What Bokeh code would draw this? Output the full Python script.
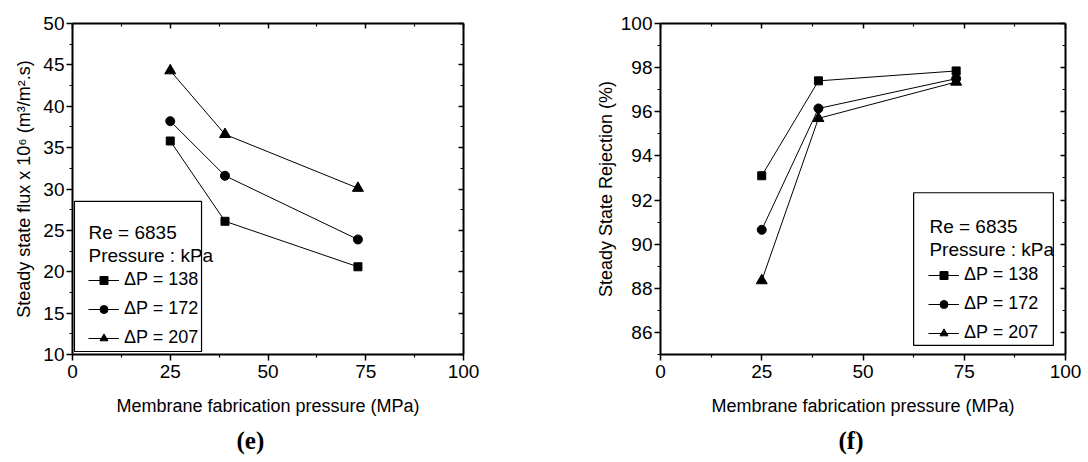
from bokeh.plotting import figure
from bokeh.layouts import row
from bokeh.models import (LinearAxis, FixedTicker, Legend, LegendItem, Label,
                          BoxAnnotation, Range1d, CustomJSTickFormatter, Title)
from bokeh.embed import file_html
from bokeh.resources import INLINE

# ---- data ----
fab_pressure = [25, 39, 73]
series_names = ["\u0394P = 138", "\u0394P = 172", "\u0394P = 207"]
markers = ["square", "circle", "triangle"]

flux_138 = [35.8, 26.1, 20.6]
flux_172 = [38.2, 31.6, 23.9]
flux_207 = [44.3, 36.6, 30.1]

rej_138 = [93.1, 97.4, 97.85]
rej_172 = [90.65, 96.15, 97.5]
rej_207 = [88.35, 95.7, 97.35]

x_ticks = [0, 25, 50, 75, 100]
x_minor = [12.5, 37.5, 62.5, 87.5]
flux_ticks = [10, 15, 20, 25, 30, 35, 40, 45, 50]
flux_minor = [12.5, 17.5, 22.5, 27.5, 32.5, 37.5, 42.5, 47.5]
rej_ticks = [86, 88, 90, 92, 94, 96, 98, 100]
rej_minor = [85, 87, 89, 91, 93, 95, 97, 99]

header_lines = ["Re = 6835", "Pressure : kPa"]

FONT = "Liberation Sans"
SERIF = "Liberation Serif"


def style_axis(ax, ticks, minor, show_labels=True, inside=False):
    ax.ticker = FixedTicker(ticks=ticks, minor_ticks=minor)
    ax.axis_line_color = "black"
    ax.axis_line_width = 2
    ax.major_tick_line_color = "black"
    ax.minor_tick_line_color = "black"
    ax.major_tick_line_width = 1.5
    ax.minor_tick_line_width = 1.2
    if inside:
        ax.major_tick_in = 5
        ax.major_tick_out = 0
        ax.minor_tick_in = 3
        ax.minor_tick_out = 0
    else:
        ax.major_tick_in = 0
        ax.major_tick_out = 6
        ax.minor_tick_in = 0
        ax.minor_tick_out = 3
    ax.major_label_text_font = FONT
    ax.major_label_text_font_size = "19px"
    ax.major_label_text_color = "black"
    ax.axis_label_text_font = FONT
    ax.axis_label_text_font_size = "18px"
    ax.axis_label_text_font_style = "normal"
    ax.axis_label_text_color = "black"
    if not show_labels:
        ax.formatter = CustomJSTickFormatter(code="return ''")
        ax.major_label_text_font_size = "1px"


def make_panel(ys, yticks, yminor, yrange, ylabel, width, mbl, mbr, ylab_standoff,
               legend_loc, header_x, header_y, box, tag, tag_offset):
    p = figure(width=width, height=462, output_backend="svg", toolbar_location=None,
               x_range=Range1d(0, 100), y_range=Range1d(*yrange),
               min_border_left=mbl, min_border_right=mbr,
               min_border_top=23, min_border_bottom=108,
               x_axis_label="Membrane fabrication pressure (MPa)", y_axis_label=ylabel)
    p.outline_line_color = None
    p.xgrid.visible = False
    p.ygrid.visible = False
    p.background_fill_color = "white"
    p.border_fill_color = "white"

    style_axis(p.xaxis[0], x_ticks, x_minor)
    p.xaxis[0].major_label_standoff = 4
    p.xaxis[0].axis_label_standoff = 15
    style_axis(p.yaxis[0], yticks, yminor)
    p.yaxis[0].major_label_standoff = 2
    p.yaxis[0].axis_label_standoff = ylab_standoff

    top = LinearAxis()
    style_axis(top, x_ticks, x_minor, show_labels=False, inside=True)
    p.add_layout(top, "above")
    right = LinearAxis()
    style_axis(right, yticks, yminor, show_labels=False, inside=True)
    p.add_layout(right, "right")

    items = []
    for yv, name, mk in zip(ys, series_names, markers):
        ln = p.line(fab_pressure, yv, line_color="black", line_width=1)
        sz = 8 if mk == "square" else (9 if mk == "circle" else 11)
        sc = p.scatter(fab_pressure, yv, marker=mk, size=sz,
                       fill_color="black", line_color="black")
        items.append(LegendItem(label=name, renderers=[ln, sc]))

    leg = Legend(items=items, location=legend_loc, margin=0, padding=6,
                 spacing=8, glyph_width=31, glyph_height=20, label_height=20,
                 label_standoff=5, label_text_font=FONT,
                 label_text_font_size="18px", label_text_color="black",
                 border_line_alpha=0, background_fill_alpha=0)
    p.add_layout(leg)

    p.add_layout(BoxAnnotation(left=box[0], right=box[1], bottom=box[2], top=box[3],
                               fill_alpha=0, line_color="black", line_alpha=1,
                               line_width=1.2))
    for txt, yy in zip(header_lines, header_y):
        p.add_layout(Label(x=header_x, y=yy, text=txt, text_font=FONT,
                           text_font_size="19px", text_baseline="middle",
                           text_color="black"))
    p.add_layout(Title(text=tag, text_font=SERIF, text_font_size="25px",
                       text_font_style="bold", text_color="black",
                       align="left", offset=tag_offset, standoff=12), "below")
    return p


p1 = make_panel([flux_138, flux_172, flux_207], flux_ticks, flux_minor, (10, 50),
                "Steady state flux x 10\u2076 (m\u00b3/m\u00b2.s)", 548, 72, 85, 6,
                (10, 0), 4.1, [24.74, 21.96], (0.5, 33.0, 10.36, 28.5),
                "(e)", 164)
p2 = make_panel([rej_138, rej_172, rej_207], rej_ticks, rej_minor, (85, 100),
                "Steady State Rejection (%)", 540, 112, 23, 2,
                (262, 5), 66.4, [90.82, 89.77], (62.5, 97.0, 85.41, 92.33),
                "(f)", 178)

layout = row(p1, p2)
open("out.html", "w").write(file_html(layout, INLINE))
